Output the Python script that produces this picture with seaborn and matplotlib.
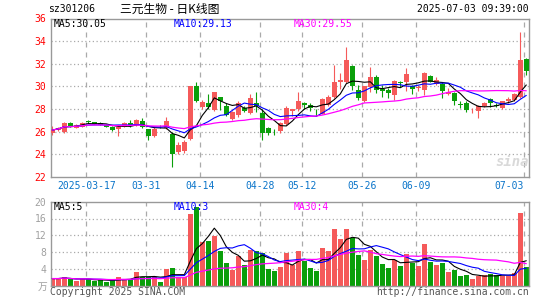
import numpy as np
import pandas as pd
import matplotlib
matplotlib.use("Agg")
import matplotlib.pyplot as plt
from matplotlib.transforms import blended_transform_factory
import seaborn as sns

# Daily K-line data for sz301206
dates = ['03-07', '03-10', '03-11', '03-12', '03-13', '03-14',
         '03-17', '03-18', '03-19', '03-20', '03-21',
         '03-24', '03-25', '03-26', '03-27', '03-28',
         '03-31', '04-01', '04-02', '04-03',
         '04-07', '04-08', '04-09', '04-10', '04-11',
         '04-14', '04-15', '04-16', '04-17', '04-18',
         '04-21', '04-22', '04-23', '04-24', '04-25',
         '04-28', '04-29', '04-30',
         '05-06', '05-07', '05-08', '05-09',
         '05-12', '05-13', '05-14', '05-15', '05-16',
         '05-19', '05-20', '05-21', '05-22', '05-23',
         '05-26', '05-27', '05-28', '05-29', '05-30',
         '06-03', '06-04', '06-05', '06-06',
         '06-09', '06-10', '06-11', '06-12', '06-13',
         '06-16', '06-17', '06-18', '06-19', '06-20',
         '06-23', '06-24', '06-25', '06-26', '06-27',
         '06-30', '07-01', '07-02', '07-03']

opens = [25.85, 26.15, 25.95, 26.8, 26.35, 26.45, 26.95, 26.85, 26.8, 26.6,
         26.45, 26.2, 26.45, 26.75, 26.55, 26.95, 26.2, 25.65, 26.45, 26.3,
         25.8, 24.2, 24.3, 25.35, 30.0, 28.2, 28.5, 27.9, 29.05, 28.3,
         27.1, 27.45, 28.1, 27.65, 28.55, 27.65, 26.3, 26.0, 26.05, 26.65,
         27.85, 28.0, 28.55, 28.35, 27.85, 27.6, 28.4, 29.05, 30.35, 30.4,
         31.8, 29.65, 28.7, 29.95, 30.8, 29.8, 29.65, 29.2, 30.4, 30.4,
         30.0, 29.85, 29.7, 30.9, 30.25, 30.25, 29.35, 29.4, 28.45, 28.5,
         27.9, 27.85, 28.25, 28.85, 28.4, 28.1, 28.7, 28.8, 29.1, 32.45]
highs = [26.5, 26.45, 26.85, 26.85, 26.7, 26.85, 27.05, 26.9, 26.85, 26.65,
         26.5, 26.55, 26.85, 27.0, 27.1, 27.2, 26.25, 26.4, 26.55, 27.3,
         25.95, 25.1, 25.3, 30.0, 30.4, 28.8, 29.3, 29.55, 29.1, 28.5,
         27.8, 28.7, 28.25, 29.35, 29.55, 28.0, 26.4, 26.2, 26.9, 28.25,
         28.05, 29.5, 28.65, 28.55, 28.05, 28.95, 29.2, 31.85, 31.2, 33.5,
         31.85, 30.1, 30.05, 31.7, 31.0, 30.1, 29.9, 30.55, 30.5, 31.65,
         30.1, 30.15, 31.3, 31.0, 30.8, 30.4, 29.85, 29.5, 28.75, 28.75,
         28.1, 28.35, 28.65, 28.95, 28.55, 28.75, 29.1, 29.4, 34.8, 32.55]
lows = [25.7, 26.1, 25.85, 26.45, 26.3, 26.4, 26.8, 26.7, 26.55, 26.4,
        26.1, 25.6, 26.4, 26.45, 26.5, 26.35, 25.3, 25.5, 26.3, 26.2,
        22.9, 24.0, 24.1, 25.3, 28.6, 28.05, 28.0, 27.85, 27.95, 27.4,
        27.0, 27.3, 27.7, 27.6, 27.75, 25.3, 25.75, 25.7, 25.9, 26.6,
        27.4, 27.8, 28.0, 27.8, 27.4, 27.55, 28.3, 29.0, 29.8, 30.3,
        29.7, 28.8, 28.6, 29.5, 29.4, 29.1, 29.0, 28.8, 29.95, 29.6,
        29.35, 29.6, 29.2, 30.35, 30.1, 29.0, 29.2, 28.4, 28.1, 27.75,
        27.65, 27.2, 28.15, 28.2, 28.15, 28.05, 28.55, 28.75, 29.0, 31.0]
closes = [26.15, 26.35, 26.8, 26.5, 26.6, 26.8, 26.9, 26.7, 26.6, 26.45,
          26.15, 26.45, 26.8, 26.5, 27.05, 26.4, 25.6, 26.25, 26.4, 26.95,
          24.0, 24.8, 25.1, 30.0, 28.7, 28.6, 28.15, 29.5, 28.7, 27.5,
          27.75, 28.55, 27.85, 29.0, 28.25, 25.85, 25.9, 25.95, 26.75, 28.1,
          28.0, 28.75, 28.35, 28.1, 27.8, 28.85, 29.1, 30.35, 30.6, 32.3,
          30.0, 28.95, 30.0, 30.8, 29.65, 29.6, 29.45, 30.45, 30.3, 31.1,
          29.8, 29.95, 31.2, 30.4, 30.6, 29.6, 29.55, 28.7, 28.4, 27.9,
          27.95, 28.25, 28.5, 28.5, 28.25, 28.7, 28.9, 29.35, 32.3, 31.4]
# volume in 10k lots
volumes = [1.7, 1.7, 2.0, 1.5, 1.2, 1.7, 1.5, 1.2, 1.3, 0.95,
           1.3, 2.0, 1.7, 1.7, 3.3, 2.0, 2.0, 2.0, 0.9, 3.9,
           4.3, 2.0, 2.0, 17.0, 18.7, 10.4, 10.6, 11.8, 8.2, 5.4,
           3.7, 7.0, 4.9, 8.6, 8.2, 7.7, 3.9, 3.5, 4.5, 7.8,
           4.9, 8.3, 5.9, 4.3, 3.6, 8.9, 8.3, 13.4, 11.1, 13.4,
           11.4, 7.3, 6.1, 8.6, 7.0, 5.1, 4.3, 6.2, 4.7, 7.5,
           5.5, 4.7, 9.9, 5.7, 4.9, 5.4, 3.3, 3.7, 2.3, 2.5,
           1.6, 2.4, 2.5, 2.7, 2.5, 2.4, 2.4, 3.1, 17.3, 4.5]

tick_dates = ['03-17', '03-31', '04-14', '04-28', '05-12', '05-26', '06-09', '07-03']
tick_labels = ['2025-03-17', '03-31', '04-14', '04-28', '05-12', '05-26', '06-09', '07-03']
price_ticks = [22, 24, 26, 28, 30, 32, 34, 36]
vol_ticks = [4, 8, 12, 16, 20]

RED = '#f55a5a'
GREEN = '#0a9f0a'
GRID = '#aaaaaa'

df = pd.DataFrame({'date': dates, 'open': opens, 'high': highs, 'low': lows,
                   'close': closes, 'vol': volumes})
df['pos'] = np.arange(len(df))
for n in (5, 10, 30):
    df[f'ma{n}'] = df['close'].rolling(n, min_periods=1).mean()
    df[f'vma{n}'] = df['vol'].rolling(n, min_periods=1).mean()
up = df['close'] >= df['open']
colors = np.where(up, RED, GREEN)

sns.set_theme(style='white')
plt.rcParams['font.family'] = ['DejaVu Sans Mono', 'Noto Sans CJK SC']

W, H = 545, 300
fig = plt.figure(figsize=(W / 100, H / 100), dpi=100)
fig.patch.set_facecolor('white')

def rect(x0, y0, x1, y1):
    return [x0 / W, 1 - y1 / H, (x1 - x0) / W, (y1 - y0) / H]

ax = fig.add_axes(rect(50.7, 18.5, 529, 177))
axv = fig.add_axes(rect(50.7, 201.7, 529, 285.7))

xlim = (-0.27, 79.45)
grid_x = [dates.index(d) - 0.35 for d in tick_dates]

for a in (ax, axv):
    a.set_facecolor('white')
    a.set_xlim(*xlim)
    for s in a.spines.values():
        s.set_color('#999999')
        s.set_linewidth(1)
    for gx in grid_x:
        a.axvline(gx, color=GRID, lw=0.9, ls=(0, (4, 4)), zorder=0)
    a.set_xticks([])
    a.tick_params(axis='y', length=0)

# price panel
ax.set_ylim(22, 36)
for yv in [24, 26, 28, 30, 32, 34]:
    ax.axhline(yv, color=GRID, lw=0.9, ls=(0, (1, 2)), zorder=0)
ax.set_yticks(price_ticks)
ax.set_yticklabels([str(t) for t in price_ticks], color='#ff0000', fontsize=7)
ax.tick_params(axis='y', pad=3)

ax.vlines(df['pos'], df['low'], df['high'], colors=colors, lw=0.8, zorder=2)
body_bottom = np.minimum(df['open'], df['close'])
body_h = np.maximum((df['close'] - df['open']).abs(), 0.05)
ax.bar(df['pos'], body_h, bottom=body_bottom, width=0.8, color=colors, lw=0, zorder=3)

sns.lineplot(data=df, x='pos', y='ma5', color='black', lw=0.8, ax=ax, zorder=4)
sns.lineplot(data=df, x='pos', y='ma10', color='#0000ff', lw=0.8, ax=ax, zorder=4)
sns.lineplot(data=df, x='pos', y='ma30', color='#ff00ff', lw=0.9, ax=ax, zorder=4)
ax.set_xlim(*xlim)
ax.set_xlabel('')
ax.set_ylabel('')

trans = blended_transform_factory(ax.transData, ax.transAxes)
for gx, lab in zip(grid_x, tick_labels):
    ha = 'right' if lab == tick_labels[-1] else 'center'
    ax.text(gx, -0.055, lab, transform=trans, ha=ha, va='center',
            fontsize=7, color='#0a74c9')

# faint sina watermark in the price panel
fig.text(512 / W, 1 - 162 / H, 'sina', fontsize=10, color='#d9d9d9',
         style='italic', weight='bold', ha='center', va='center')

# volume panel
axv.set_ylim(0, 20)
for yv in [4, 8, 12, 16]:
    axv.axhline(yv, color=GRID, lw=0.9, ls=(0, (1, 2)), zorder=0)
axv.set_yticks(vol_ticks)
axv.set_yticklabels([str(t) for t in vol_ticks], color='#a0a0a0', fontsize=7)
axv.tick_params(axis='y', pad=3)
axv.bar(df['pos'], df['vol'], width=0.8, color=colors, lw=0, zorder=2)
sns.lineplot(data=df, x='pos', y='vma5', color='black', lw=0.8, ax=axv, zorder=4)
sns.lineplot(data=df, x='pos', y='vma10', color='#0000ff', lw=0.8, ax=axv, zorder=4)
sns.lineplot(data=df, x='pos', y='vma30', color='#ff00ff', lw=0.9, ax=axv, zorder=4)
axv.set_xlim(*xlim)
axv.set_xlabel('')
axv.set_ylabel('')

def ftext(x, y, s, **kw):
    fig.text(x / W, 1 - y / H, s, va='center', **kw)

# header
ftext(48, 9, 'sz301206', fontsize=7, color='black')
ftext(120, 9, '三元生物 - 日K线图', fontsize=8.5, color='black',
      family=['Noto Sans CJK SC', 'DejaVu Sans'])
ftext(529, 9, '2025-07-03 09:39:00', fontsize=7, color='black', ha='right')

# price MA labels
ftext(54, 24, 'MA5:30.05', fontsize=7, color='black')
ftext(174, 24, 'MA10:29.13', fontsize=7, color='#0000ff')
ftext(294, 24, 'MA30:29.55', fontsize=7, color='#ff00ff')

# volume MA labels
ftext(54, 206.5, 'MA5:5', fontsize=7, color='black')
ftext(174, 206.5, 'MA10:3', fontsize=7, color='#0000ff')
ftext(294, 206.5, 'MA30:4', fontsize=7, color='#ff00ff')
ftext(47, 287, '万', fontsize=7, color='#a0a0a0', ha='right',
      family=['Noto Sans CJK SC', 'DejaVu Sans'])

# footer
ftext(50, 292, 'Copyright 2025 SINA.COM', fontsize=7, color='#555555')
ftext(529, 292, 'http://finance.sina.com.cn', fontsize=7, color='#555555', ha='right')

fig.savefig('out.png', dpi=100, facecolor='white')
